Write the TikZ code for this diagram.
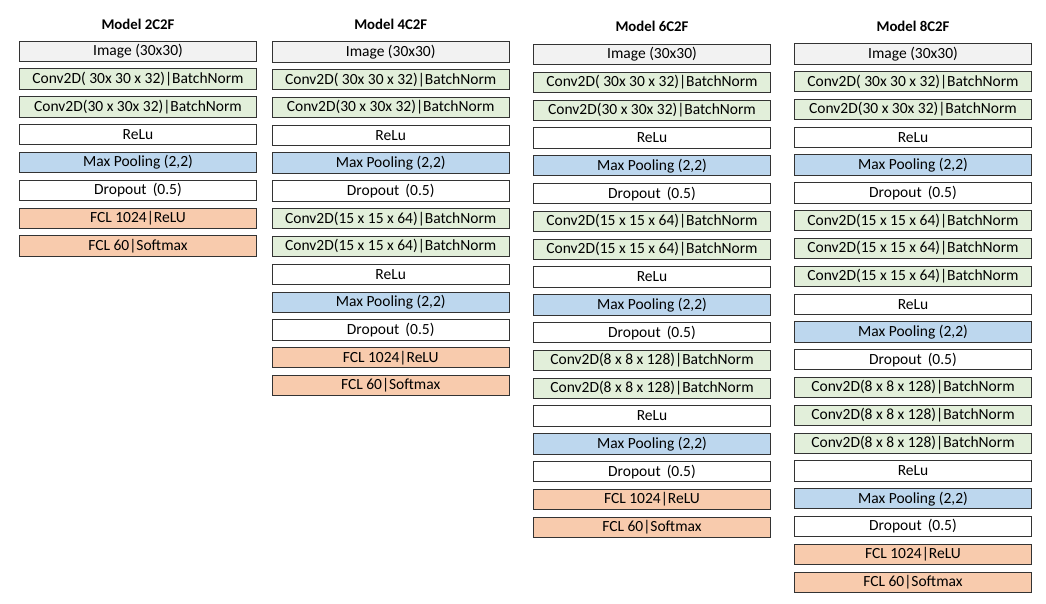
\documentclass[tikz,border=0pt]{standalone}
\usepackage{fontspec}
\setmainfont{Carlito}
\definecolor{imgc}{HTML}{F2F2F2}
\definecolor{convc}{HTML}{E2EFDA}
\definecolor{poolc}{HTML}{BDD7EE}
\definecolor{fclc}{HTML}{F8CBAD}
\definecolor{edgec}{HTML}{333333}
\tikzset{
  lay/.style={draw=edgec, line width=1pt, minimum width=237.4pt, minimum height=20.3pt,
    inner sep=0pt, anchor=north, font=\fontsize{15.5}{17}\selectfont, fill=white},
  imgbox/.style={lay, fill=imgc},
  convbox/.style={lay, fill=convc},
  plainbox/.style={lay, fill=white},
  poolbox/.style={lay, fill=poolc},
  fclbox/.style={lay, fill=fclc},
  ttl/.style={font=\bfseries\fontsize{14.8}{16}\selectfont, inner sep=0pt}
}
\newcommand\lyr[6]{\node[#5] (#1) at (#2,{#3+27.8*#4}) {#6};}
\begin{document}
\begin{tikzpicture}[x=1pt,y=-1pt]
\useasboundingbox (0,0) rectangle (1046,604);
% Column 1
\node[ttl] (t1) at (138,24) {Model 2C2F};
\lyr{a0}{138}{40.7}{0}{imgbox}{Image (30x30)}
\lyr{a1}{138}{40.7}{1}{convbox}{Conv2D( 30x 30 x 32)|BatchNorm}
\lyr{a2}{138}{40.7}{2}{convbox}{Conv2D(30 x 30x 32)|BatchNorm}
\lyr{a3}{138}{40.7}{3}{plainbox}{ReLu}
\lyr{a4}{138}{40.7}{4}{poolbox}{Max Pooling (2,2)}
\lyr{a5}{138}{40.7}{5}{plainbox}{Dropout\, (0.5)}
\lyr{a6}{138}{40.7}{6}{fclbox}{FCL 1024|ReLU}
\lyr{a7}{138}{40.7}{7}{fclbox}{FCL 60|Softmax}
% Column 2
\node[ttl] (t2) at (390.7,24) {Model 4C2F};
\lyr{b0}{390.7}{41.3}{0}{imgbox}{Image (30x30)}
\lyr{b1}{390.7}{41.3}{1}{convbox}{Conv2D( 30x 30 x 32)|BatchNorm}
\lyr{b2}{390.7}{41.3}{2}{convbox}{Conv2D(30 x 30x 32)|BatchNorm}
\lyr{b3}{390.7}{41.3}{3}{plainbox}{ReLu}
\lyr{b4}{390.7}{41.3}{4}{poolbox}{Max Pooling (2,2)}
\lyr{b5}{390.7}{41.3}{5}{plainbox}{Dropout\, (0.5)}
\lyr{b6}{390.7}{41.3}{6}{convbox}{Conv2D(15 x 15 x 64)|BatchNorm}
\lyr{b7}{390.7}{41.3}{7}{convbox}{Conv2D(15 x 15 x 64)|BatchNorm}
\lyr{b8}{390.7}{41.3}{8}{plainbox}{ReLu}
\lyr{b9}{390.7}{41.3}{9}{poolbox}{Max Pooling (2,2)}
\lyr{b10}{390.7}{41.3}{10}{plainbox}{Dropout\, (0.5)}
\lyr{b11}{390.7}{41.3}{11}{fclbox}{FCL 1024|ReLU}
\lyr{b12}{390.7}{41.3}{12}{fclbox}{FCL 60|Softmax}
% Column 3
\node[ttl] (t3) at (652,26.7) {Model 6C2F};
\lyr{c0}{652}{44}{0}{imgbox}{Image (30x30)}
\lyr{c1}{652}{44}{1}{convbox}{Conv2D( 30x 30 x 32)|BatchNorm}
\lyr{c2}{652}{44}{2}{convbox}{Conv2D(30 x 30x 32)|BatchNorm}
\lyr{c3}{652}{44}{3}{plainbox}{ReLu}
\lyr{c4}{652}{44}{4}{poolbox}{Max Pooling (2,2)}
\lyr{c5}{652}{44}{5}{plainbox}{Dropout\, (0.5)}
\lyr{c6}{652}{44}{6}{convbox}{Conv2D(15 x 15 x 64)|BatchNorm}
\lyr{c7}{652}{44}{7}{convbox}{Conv2D(15 x 15 x 64)|BatchNorm}
\lyr{c8}{652}{44}{8}{plainbox}{ReLu}
\lyr{c9}{652}{44}{9}{poolbox}{Max Pooling (2,2)}
\lyr{c10}{652}{44}{10}{plainbox}{Dropout\, (0.5)}
\lyr{c11}{652}{44}{11}{convbox}{Conv2D(8 x 8 x 128)|BatchNorm}
\lyr{c12}{652}{44}{12}{convbox}{Conv2D(8 x 8 x 128)|BatchNorm}
\lyr{c13}{652}{44}{13}{plainbox}{ReLu}
\lyr{c14}{652}{44}{14}{poolbox}{Max Pooling (2,2)}
\lyr{c15}{652}{44}{15}{plainbox}{Dropout\, (0.5)}
\lyr{c16}{652}{44}{16}{fclbox}{FCL 1024|ReLU}
\lyr{c17}{652}{44}{17}{fclbox}{FCL 60|Softmax}
% Column 4
\node[ttl] (t4) at (913,26.7) {Model 8C2F};
\lyr{d0}{913}{43.3}{0}{imgbox}{Image (30x30)}
\lyr{d1}{913}{43.3}{1}{convbox}{Conv2D( 30x 30 x 32)|BatchNorm}
\lyr{d2}{913}{43.3}{2}{convbox}{Conv2D(30 x 30x 32)|BatchNorm}
\lyr{d3}{913}{43.3}{3}{plainbox}{ReLu}
\lyr{d4}{913}{43.3}{4}{poolbox}{Max Pooling (2,2)}
\lyr{d5}{913}{43.3}{5}{plainbox}{Dropout\, (0.5)}
\lyr{d6}{913}{43.3}{6}{convbox}{Conv2D(15 x 15 x 64)|BatchNorm}
\lyr{d7}{913}{43.3}{7}{convbox}{Conv2D(15 x 15 x 64)|BatchNorm}
\lyr{d8}{913}{43.3}{8}{convbox}{Conv2D(15 x 15 x 64)|BatchNorm}
\lyr{d9}{913}{43.3}{9}{plainbox}{ReLu}
\lyr{d10}{913}{43.3}{10}{poolbox}{Max Pooling (2,2)}
\lyr{d11}{913}{43.3}{11}{plainbox}{Dropout\, (0.5)}
\lyr{d12}{913}{43.3}{12}{convbox}{Conv2D(8 x 8 x 128)|BatchNorm}
\lyr{d13}{913}{43.3}{13}{convbox}{Conv2D(8 x 8 x 128)|BatchNorm}
\lyr{d14}{913}{43.3}{14}{convbox}{Conv2D(8 x 8 x 128)|BatchNorm}
\lyr{d15}{913}{43.3}{15}{plainbox}{ReLu}
\lyr{d16}{913}{43.3}{16}{poolbox}{Max Pooling (2,2)}
\lyr{d17}{913}{43.3}{17}{plainbox}{Dropout\, (0.5)}
\lyr{d18}{913}{43.3}{18}{fclbox}{FCL 1024|ReLU}
\lyr{d19}{913}{43.3}{19}{fclbox}{FCL 60|Softmax}
\end{tikzpicture}
\end{document}
